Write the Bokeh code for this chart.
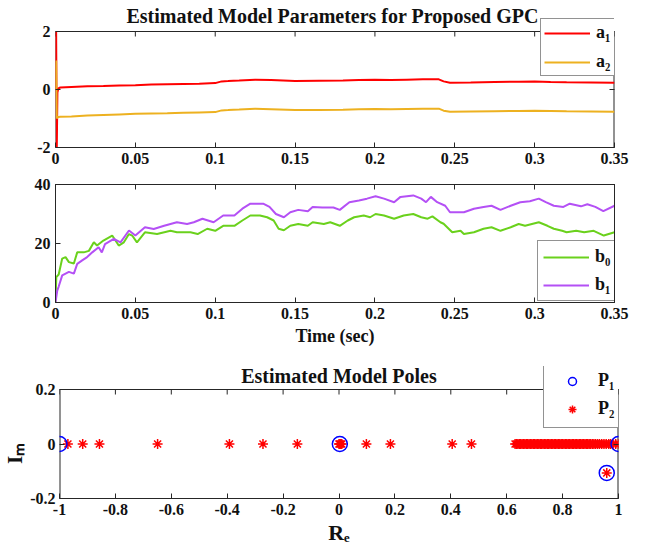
from bokeh.plotting import figure
from bokeh.layouts import column, row
from bokeh.models import Range1d, FixedTicker, LinearAxis, Legend, LegendItem, Label
from bokeh.embed import file_html
from bokeh.resources import INLINE

# ---------------- data ----------------
t_a = [0, 0.0004, 0.0008, 0.0012, 0.0018, 0.003, 0.01, 0.02, 0.03, 0.04,
       0.05, 0.06, 0.07, 0.08, 0.09, 0.1, 0.104, 0.108, 0.115, 0.125,
       0.135, 0.15, 0.165, 0.18, 0.19, 0.2, 0.21, 0.22, 0.23, 0.24,
       0.243, 0.247, 0.26, 0.275, 0.29, 0.3, 0.31, 0.32, 0.335, 0.35]
a1 = [0.0, 2.0, -2.0, -0.1, 0.04, 0.07, 0.09, 0.11, 0.12, 0.14,
      0.15, 0.17, 0.18, 0.19, 0.2, 0.22, 0.28, 0.29, 0.31, 0.34,
      0.33, 0.29, 0.30, 0.31, 0.33, 0.34, 0.33, 0.34, 0.35, 0.35,
      0.28, 0.23, 0.24, 0.26, 0.27, 0.28, 0.26, 0.25, 0.24, 0.23]
a2 = [0.0, 1.0, -1.0, -0.97, -0.95, -0.94, -0.93, -0.9, -0.88, -0.86,
      -0.84, -0.83, -0.82, -0.8, -0.79, -0.78, -0.72, -0.71, -0.69, -0.66,
      -0.68, -0.71, -0.71, -0.7, -0.68, -0.67, -0.68, -0.67, -0.66, -0.66,
      -0.73, -0.77, -0.76, -0.75, -0.74, -0.73, -0.74, -0.75, -0.76, -0.77]

t_b0 = [0, 0.0005, 0.002, 0.0042, 0.0063, 0.0084, 0.0115, 0.0136, 0.0177, 0.0209,
        0.024, 0.026, 0.030, 0.0355, 0.0396, 0.0428, 0.046, 0.048, 0.051, 0.056,
        0.0636, 0.072, 0.076, 0.0845, 0.089, 0.095, 0.1, 0.105, 0.112, 0.117,
        0.122, 0.128, 0.1325, 0.1366, 0.1397, 0.143, 0.147, 0.152, 0.158, 0.161,
        0.168, 0.172, 0.178, 0.183, 0.187, 0.193, 0.197, 0.2004, 0.2057, 0.212,
        0.218, 0.224, 0.229, 0.233, 0.236, 0.241, 0.243, 0.2484, 0.2536, 0.2557,
        0.262, 0.268, 0.273, 0.2786, 0.285, 0.29, 0.294, 0.3026, 0.308, 0.312,
        0.3172, 0.32, 0.326, 0.331, 0.337, 0.3433, 0.35]
b0 = [0, 8.6, 9.5, 14.9, 15.4, 13.7, 13.2, 17, 17, 17.5,
      20.4, 19.3, 21, 22.7, 19.3, 20.4, 23.2, 22.7, 20.4, 23.8,
      23.2, 24.3, 23.8, 23.8, 23.2, 25, 24.3, 26, 26, 27.8,
      29.5, 29.5, 28.9, 27.8, 25, 24.5, 26, 26.6, 26, 27.2,
      26.6, 27.2, 26, 27.8, 28.9, 29.5, 28.9, 30, 29.5, 28.4,
      29.5, 30, 28.9, 28.4, 29.2, 27.2, 26.7, 23.8, 24.3, 23.2,
      23.8, 25, 25.5, 24.3, 25.5, 26.6, 26, 27.2, 26, 25,
      24.3, 23.8, 24.3, 23.8, 24.3, 22.7, 23.8]

t_b1 = [0, 0.0011, 0.002, 0.0042, 0.0084, 0.0115, 0.0136, 0.0167, 0.0198, 0.023,
        0.027, 0.029, 0.031, 0.0365, 0.0407, 0.046, 0.05, 0.056, 0.0615, 0.068,
        0.072, 0.076, 0.0824, 0.0866, 0.092, 0.099, 0.105, 0.112, 0.117, 0.122,
        0.13, 0.134, 0.138, 0.143, 0.147, 0.152, 0.158, 0.161, 0.167, 0.174,
        0.178, 0.184, 0.19, 0.195, 0.2004, 0.2057, 0.212, 0.216, 0.224, 0.229,
        0.232, 0.235, 0.239, 0.244, 0.247, 0.2557, 0.262, 0.268, 0.273, 0.2786,
        0.285, 0.291, 0.297, 0.3026, 0.307, 0.312, 0.318, 0.322, 0.329, 0.333,
        0.338, 0.343, 0.35]
b1 = [0, 4, 5.4, 9.2, 10.4, 9.8, 13.1, 14.3, 15.4, 17,
      18.7, 17, 19.8, 21.6, 20.4, 24.4, 22.7, 25.5, 24.9, 26,
      26.6, 27.2, 26.6, 27.2, 28.4, 27.2, 29.5, 29.5, 31.8, 33.5,
      33.5, 32.4, 30, 28.9, 30.6, 31.4, 30.9, 32.4, 32.2, 32.2,
      31.4, 34, 34.6, 35.2, 36, 35.2, 34, 35.8, 36.3, 35.2,
      34, 35.8, 34, 32.8, 30.6, 30.6, 31.8, 32.4, 32.8, 31.4,
      32.8, 34, 34.3, 35.2, 34, 32.8, 32.4, 33.5, 32.6, 33.3,
      32.4, 31, 32.8]

# poles
p1_re = [-1.0, 0.003, 1.0, 0.958]
p1_im = [0.0, 0.0, 0.0, -0.106]
p2_re_real = [-0.97, -0.917, -0.857, -0.649, -0.392, -0.272, -0.149,
              0.0, 0.003, 0.006, 0.01, 0.098, 0.184, 0.405, 0.474,
              0.630, 0.635, 0.640, 0.645, 0.650, 0.655, 0.660, 0.665, 0.670, 0.675,
              0.680, 0.685, 0.690, 0.695, 0.700, 0.705, 0.710, 0.715, 0.720, 0.725,
              0.730, 0.735, 0.740, 0.745, 0.750, 0.755, 0.760, 0.765, 0.770, 0.775,
              0.780, 0.785, 0.790, 0.795, 0.800, 0.805, 0.810, 0.815, 0.820, 0.825,
              0.830, 0.835, 0.840, 0.845, 0.850, 0.855, 0.860, 0.865, 0.870, 0.875,
              0.880, 0.885, 0.890, 0.895, 0.900, 0.906, 0.912, 0.918, 0.925, 0.932,
              0.940, 0.948, 0.956, 0.965, 0.972, 0.980, 0.990, 1.0]
p2_re_cplx = [0.958]
p2_im_cplx = [-0.106]

t_ticks = [0, 0.05, 0.1, 0.15, 0.2, 0.25, 0.3, 0.35]
t_labels = ["0", "0.05", "0.1", "0.15", "0.2", "0.25", "0.3", "0.35"]
a_ticks = [-2, 0, 2]
a_labels = ["-2", "0", "2"]
b_ticks = [0, 20, 40]
b_labels = ["0", "20", "40"]
re_ticks = [-1, -0.8, -0.6, -0.4, -0.2, 0, 0.2, 0.4, 0.6, 0.8, 1]
re_labels = ["-1", "-0.8", "-0.6", "-0.4", "-0.2", "0", "0.2", "0.4", "0.6", "0.8", "1"]
im_ticks = [-0.2, 0, 0.2]
im_labels = ["-0.2", "0", "0.2"]

# ---------------- styling ----------------
FONT = "Liberation Serif"
AX = "#262626"
TXT = "#111111"
C_A1 = "#ff0000"
C_A2 = "#edb120"
C_B0 = "#6ad11c"
C_B1 = "#b450f5"
TICK = 5


def style_axis(ax, ticks, labels, show_labels=True):
    ax.ticker = FixedTicker(ticks=ticks)
    ax.major_label_overrides = {k: v for k, v in zip(ticks, labels)}
    ax.major_tick_in = TICK
    ax.major_tick_out = 0
    ax.minor_tick_line_color = None
    ax.axis_line_color = AX
    ax.major_tick_line_color = AX
    ax.major_label_text_font = FONT
    ax.major_label_text_font_style = "bold"
    ax.major_label_text_color = TXT
    if show_labels:
        ax.major_label_text_font_size = "16px"
        ax.major_label_standoff = 5
    else:
        ax.major_label_text_font_size = "0px"
        ax.major_label_standoff = 0
    ax.axis_label_text_font = FONT
    ax.axis_label_text_font_style = "bold"
    ax.axis_label_text_font_size = "18px"
    ax.axis_label_text_color = TXT


def make_fig(x0, x1, y0, y1, xt, xl, yt, yl, fw, fh, ext, bl, br, bt, bb):
    """ext: extra pixels of frame above the axes box (room for legend/title)."""
    y_top = y1 + ext * (y1 - y0) / fh
    p = figure(frame_width=fw, frame_height=fh + ext,
               x_range=Range1d(x0, x1), y_range=Range1d(y0, y_top),
               output_backend="svg", toolbar_location=None,
               min_border_left=bl, min_border_right=br,
               min_border_top=bt, min_border_bottom=bb)
    p.xgrid.visible = False
    p.ygrid.visible = False
    p.background_fill_color = "white"
    p.border_fill_color = "white"
    bottom = p.below[0]
    left = p.left[0]
    style_axis(bottom, xt, xl)
    style_axis(left, yt, yl)
    right = LinearAxis()
    style_axis(right, yt, yl, show_labels=False)
    p.add_layout(right, "right")
    if ext == 0:
        p.outline_line_color = AX
        p.outline_line_alpha = 1
        top = LinearAxis()
        style_axis(top, xt, xl, show_labels=False)
        p.add_layout(top, "above")
    else:
        p.outline_line_color = None
        left.axis_line_color = None
        right.axis_line_color = None
        # axes box drawn at the data limits
        p.segment(x0=[x0], y0=[y1], x1=[x1], y1=[y1], line_color=AX, line_width=1)
        p.segment(x0=[x0, x1], y0=[y0, y0], x1=[x0, x1], y1=[y1, y1],
                  line_color=AX, line_width=2)
        # mirrored inward ticks on the top edge
        tick_len = TICK * (y1 - y0) / fh
        p.segment(x0=xt, y0=[y1] * len(xt), x1=xt, y1=[y1 - tick_len] * len(xt),
                  line_color=AX, line_width=1)
    return p, bottom, left


def style_legend(lg, pad, spacing, gw):
    lg.label_text_font = FONT
    lg.label_text_font_style = "bold"
    lg.label_text_font_size = "18px"
    lg.label_text_color = TXT
    lg.glyph_width = gw
    lg.glyph_height = 20
    lg.label_height = 20
    lg.label_standoff = 6
    lg.spacing = spacing
    lg.padding = pad
    lg.margin = 0
    lg.border_line_color = AX
    lg.border_line_width = 1
    lg.background_fill_color = "white"
    lg.background_fill_alpha = 1


def title_label(x, y, text, size):
    return Label(x=x, y=y, text=text, text_font=FONT, text_font_style="bold",
                 text_font_size=size, text_color=TXT, text_align="center",
                 text_baseline="middle")


# ---- top panel ----
p1, p1_bottom, p1_left = make_fig(0, 0.35, -2, 2, t_ticks, t_labels, a_ticks, a_labels,
                                  559, 116, 28, 55, 33, 3, 23)
p1.add_layout(title_label(0.1735, 2 + 16 * 4 / 116,
                          "Estimated Model Parameters for Proposed GPC", "20px"))
r_a1 = p1.line(t_a, a1, line_color=C_A1, line_width=2)
r_a2 = p1.line(t_a, a2, line_color=C_A2, line_width=2)
lg1 = Legend(items=[LegendItem(label="a\u2081", renderers=[r_a1]),
                    LegendItem(label="a\u2082", renderers=[r_a2])],
             location=(485, 71))
style_legend(lg1, 3, 8, 46)
p1.add_layout(lg1)

# ---- middle panel ----
p2, p2_bottom, p2_left = make_fig(0, 0.35, 0, 40, t_ticks, t_labels, b_ticks, b_labels,
                                  559, 118, 0, 55, 33, 14, 53)
p2_bottom.axis_label = "Time (sec)"
p2_bottom.axis_label_standoff = 4
r_b0 = p2.line(t_b0, b0, line_color=C_B0, line_width=2)
r_b1 = p2.line(t_b1, b1, line_color=C_B1, line_width=2)
lg2 = Legend(items=[LegendItem(label="b\u2080", renderers=[r_b0]),
                    LegendItem(label="b\u2081", renderers=[r_b1])],
             location=(482, 1))
style_legend(lg2, 5, 7, 46)
p2.add_layout(lg2)

# ---- bottom panel ----
p3, p3_bottom, p3_left = make_fig(-1, 1, -0.2, 0.2, re_ticks, re_labels, im_ticks, im_labels,
                                  559, 109, 23, 59, 29, 11, 60)
p3_bottom.axis_label = "R\u2091"
p3_left.axis_label = "I\u2098\u2007\u2007\u2007\u2007"
p3_bottom.axis_label_text_font_size = "22px"
p3_left.axis_label_text_font_size = "21px"
p3_bottom.axis_label_standoff = 2
p3_left.axis_label_standoff = 0
p3_left.major_label_standoff = 4
p3.add_layout(title_label(0, 0.2 + 14 * 0.4 / 109, "Estimated Model Poles", "20px"))
r_p2a = p3.scatter(p2_re_real, [0.0] * len(p2_re_real), marker="asterisk", size=10,
                   line_color="#ff0000", line_width=1.5)
r_p2b = p3.scatter(p2_re_cplx, p2_im_cplx, marker="asterisk", size=10,
                   line_color="#ff0000", line_width=1.5)
r_p1 = p3.scatter(p1_re, p1_im, marker="circle", size=15, line_color="#0000ff",
                  fill_color=None, line_width=1.5)
lg3 = Legend(items=[LegendItem(label="P\u2081", renderers=[r_p1]),
                    LegendItem(label="P\u2082", renderers=[r_p2a])],
             location=(484, 70))
style_legend(lg3, 8, 7, 40)
p3.add_layout(lg3)

layout = column(row(p1), row(p2), row(p3), spacing=0)
open("out.html", "w").write(file_html(layout, INLINE))
